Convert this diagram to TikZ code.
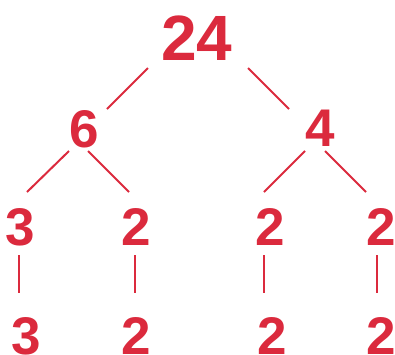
\documentclass[tikz,border=0pt]{standalone}
\usepackage{fontspec}
\setmainfont{Liberation Sans}
\usetikzlibrary{calc}
\definecolor{factorred}{HTML}{DB2A3D}
\tikzset{
  num/.style={text=factorred, font=\bfseries\fontsize{53}{53}\selectfont, inner sep=0pt},
  bignum/.style={num, font=\bfseries\fontsize{64}{64}\selectfont},
  edge/.style={draw=factorred, line width=2pt}
}
\begin{document}
\begin{tikzpicture}[x=1pt, y=-1pt]
    \useasboundingbox (0,0) rectangle (395,354);
    % numbers
    \node[bignum] (n24) at (197,38) {24};
    \node[num] (n6) at (84,129) {6};
    \node[num] (n4) at (320,128) {4};
    \node[num] (a3) at (20,227) {3};
    \node[num] (a2) at (136,227) {2};
    \node[num] (b2) at (270,227) {2};
    \node[num] (c2) at (381,227) {2};
    \node[num] (d3) at (26,336) {3};
    \node[num] (d2) at (136,336) {2};
    \node[num] (e2) at (272,336) {2};
    \node[num] (f2) at (381,336) {2};
    % branches
    \draw[edge] ($(n24)+(-49,30)$) -- ($(n6)+(23,-20)$);
    \draw[edge] ($(n24)+(51,30)$) -- ($(n4)+(-31,-19)$);
    \draw[edge] ($(n6)+(-15,22)$) -- ($(a3)+(7,-35)$);
    \draw[edge] ($(n6)+(4,22)$) -- ($(a2)+(-7,-35)$);
    \draw[edge] ($(n4)+(-15,23)$) -- ($(b2)+(-6,-35)$);
    \draw[edge] ($(n4)+(5,23)$) -- ($(c2)+(-15,-35)$);
    \draw[edge] ($(a3)+(-1,28)$) -- ($(d3)+(-7,-43)$);
    \draw[edge] ($(a2)+(-1,28)$) -- ($(d2)+(-1,-43)$);
    \draw[edge] ($(b2)+(-6,28)$) -- ($(e2)+(-8,-43)$);
    \draw[edge] ($(c2)+(-4,28)$) -- ($(f2)+(-4,-43)$);
  \end{tikzpicture}
\end{document}
